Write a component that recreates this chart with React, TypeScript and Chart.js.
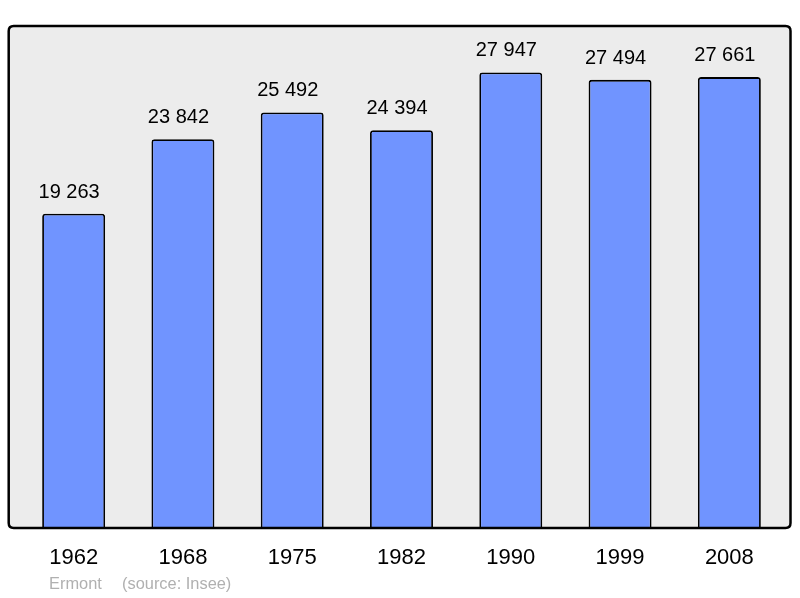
import React, { useEffect, useRef } from "react";
import { Chart, registerables } from "chart.js";

Chart.register(...registerables);

const years = ["1962", "1968", "1975", "1982", "1990", "1999", "2008"];
const population = [19263, 23842, 25492, 24394, 27947, 27494, 27661];
const commune = "Ermont";
const source = "(source: Insee)";
const yMax = 30742;

const FONT = "'Liberation Sans', Arial, sans-serif";

function fmt(n: number): string {
  return String(n).replace(/\B(?=(\d{3})+(?!\d))/g, " ");
}

function roundRect(ctx: CanvasRenderingContext2D, x: number, y: number, w: number, h: number, r: number) {
  ctx.beginPath();
  ctx.moveTo(x + r, y);
  ctx.lineTo(x + w - r, y);
  ctx.quadraticCurveTo(x + w, y, x + w, y + r);
  ctx.lineTo(x + w, y + h - r);
  ctx.quadraticCurveTo(x + w, y + h, x + w - r, y + h);
  ctx.lineTo(x + r, y + h);
  ctx.quadraticCurveTo(x, y + h, x, y + h - r);
  ctx.lineTo(x, y + r);
  ctx.quadraticCurveTo(x, y, x + r, y);
  ctx.closePath();
}

const framePlugin = {
  id: "frame",
  beforeDatasetsDraw(chart: any) {
    const { ctx, chartArea } = chart;
    const x = chartArea.left - 10.3;
    const y = chartArea.top - 1;
    const w = chartArea.right + 6.5 - x;
    const h = chartArea.bottom + 1 - y;
    ctx.save();
    roundRect(ctx, x, y, w, h, 5);
    ctx.fillStyle = "#ececec";
    ctx.fill();
    ctx.restore();
  },
  afterDatasetsDraw(chart: any) {
    const { ctx, chartArea } = chart;
    const x = chartArea.left - 10.3;
    const y = chartArea.top - 1;
    const w = chartArea.right + 6.5 - x;
    const h = chartArea.bottom + 1 - y;
    ctx.save();
    roundRect(ctx, x, y, w, h, 5);
    ctx.lineWidth = 2.5;
    ctx.strokeStyle = "#000";
    ctx.stroke();

    const meta = chart.getDatasetMeta(0);
    ctx.fillStyle = "#000";
    ctx.font = `20px ${FONT}`;
    ctx.textAlign = "center";
    ctx.textBaseline = "alphabetic";
    meta.data.forEach((bar: any, i: number) => {
      ctx.fillText(fmt(population[i]), bar.x - 4.5, bar.y - 16);
    });
    ctx.restore();
  },
  afterDraw(chart: any) {
    const { ctx, chartArea } = chart;
    ctx.save();
    ctx.fillStyle = "#b0b0b0";
    ctx.font = `16.4px ${FONT}`;
    ctx.textAlign = "left";
    ctx.textBaseline = "alphabetic";
    const base = chart.height - 9;
    ctx.fillText(commune, chartArea.left + 30, base);
    ctx.fillText(source, chartArea.left + 103, base);
    ctx.restore();
  },
};

export default function App() {
  const ref = useRef<HTMLCanvasElement | null>(null);
  useEffect(() => {
    if (!ref.current) return;
    const chart = new Chart(ref.current, {
      type: "bar",
      data: {
        labels: years,
        datasets: [
          {
            data: population,
            backgroundColor: "#7094ff",
            borderColor: "#000",
            borderWidth: 1.8,
            borderRadius: 3,
            borderSkipped: "bottom",
            barPercentage: 0.576,
            categoryPercentage: 1,
          },
        ],
      },
      options: {
        animation: false,
        responsive: true,
        maintainAspectRatio: false,
        layout: { padding: { left: 19, right: 16, top: 27, bottom: 8.6 } },
        plugins: {
          legend: { display: false },
          tooltip: { enabled: false },
        },
        scales: {
          x: {
            offset: true,
            grid: { display: false, drawTicks: false },
            border: { display: false },
            ticks: {
              color: "#000",
              padding: 18,
              font: { family: FONT, size: 22 },
              maxRotation: 0,
              autoSkip: false,
            },
          },
          y: {
            display: false,
            min: 0,
            max: yMax,
          },
        },
      },
      plugins: [framePlugin],
    });
    return () => chart.destroy();
  }, []);
  return (
    <div style={{ position: "fixed", left: 0, top: 0, width: 800, height: 598, background: "#fff" }}>
      <canvas ref={ref} />
    </div>
  );
}
